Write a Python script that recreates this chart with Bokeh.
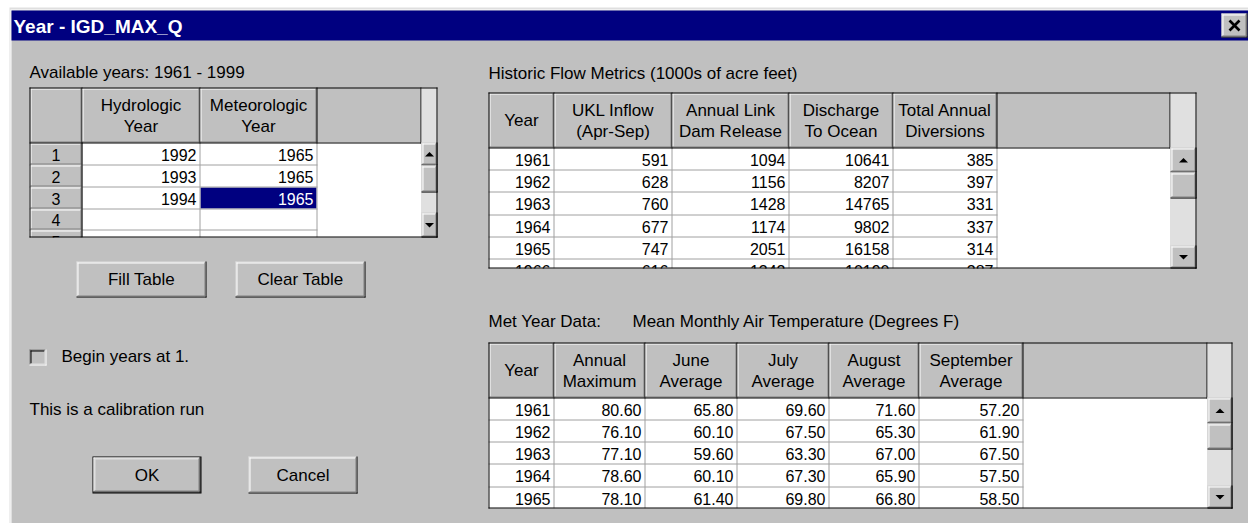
from bokeh.plotting import figure
from bokeh.models import Range1d
from bokeh.embed import file_html
from bokeh.resources import INLINE
from bokeh.core.properties import value

# ---------------- data ----------------
TITLE = "Year - IGD_MAX_Q"
avail_label = "Available years: 1961 - 1999"
left_headers = [[""], ["Hydrologic", "Year"], ["Meteorologic", "Year"]]
row_numbers = ["1", "2", "3", "4", "5"]
hydrologic_years = [1992, 1993, 1994]
meteorologic_years = [1965, 1965, 1965]
selected_cell = (2, 2)  # (row, column) highlighted

button_labels = ["Fill Table", "Clear Table", "OK", "Cancel"]
checkbox_label = "Begin years at 1."
calib_label = "This is a calibration run"

flow_title = "Historic Flow Metrics (1000s of acre feet)"
flow_headers = [["Year"], ["UKL Inflow", "(Apr-Sep)"], ["Annual Link", "Dam Release"],
                ["Discharge", "To Ocean"], ["Total Annual", "Diversions"]]
flow_years = [1961, 1962, 1963, 1964, 1965, 1966]
ukl_inflow = [591, 628, 760, 677, 747, 616]
link_release = [1094, 1156, 1428, 1174, 2051, 1342]
discharge_ocean = [10641, 8207, 14765, 9802, 16158, 10190]
total_diversions = [385, 397, 331, 337, 314, 387]

met_label = "Met Year Data:"
met_title = "Mean Monthly Air Temperature (Degrees F)"
met_headers = [["Year"], ["Annual", "Maximum"], ["June", "Average"], ["July", "Average"],
               ["August", "Average"], ["September", "Average"]]
met_years = [1961, 1962, 1963, 1964, 1965]
annual_maximum = [80.60, 76.10, 77.10, 78.60, 78.10]
june_average = [65.80, 60.10, 59.60, 60.10, 61.40]
july_average = [69.60, 67.50, 63.30, 67.30, 69.80]
august_average = [71.60, 65.30, 67.00, 65.90, 66.80]
september_average = [57.20, 61.90, 67.50, 57.50, 58.50]

# ---------------- style ----------------
GRAY = "#c0c0c0"
DARK = "#808080"
LIGHT = "#dfdfdf"
NAVY = "#000080"
WHITE = "#ffffff"
BLACK = "#000000"
LINE = "#a0a0a0"
STIP = "#e0e0e0"
FONT = "Liberation Sans"
LBL = "17px"
DAT = "16px"

W, H = 1248, 523
p = figure(width=W, height=H, x_range=Range1d(0, W), y_range=Range1d(H, 0),
           output_backend="svg", toolbar_location=None, min_border=0,
           x_axis_location=None, y_axis_location=None)
p.grid.visible = False
p.outline_line_color = None
p.background_fill_color = WHITE
p.border_fill_color = WHITE


def rect(l, t, r, b, fill):
    p.quad(left=[l], right=[r], top=[t], bottom=[b], fill_color=fill, line_color=None)


def hline(x0, x1, y, color, w=1):
    p.segment(x0=[x0], y0=[y + 0.5], x1=[x1], y1=[y + 0.5], line_color=color, line_width=w)


def vline(x, y0, y1, color, w=1):
    p.segment(x0=[x + 0.5], y0=[y0], x1=[x + 0.5], y1=[y1], line_color=color, line_width=w)


def txt(x, y, s, align="left", color=BLACK, size=LBL, bold=False):
    p.text(x=[x], y=[y], text=[s], text_align=align, text_baseline="middle",
           text_color=color, text_font=value(FONT), text_font_size=size,
           text_font_style="bold" if bold else "normal")


def raised(l, t, r, b, default=False):
    if default:
        rect(l, t, r, b, BLACK)
        l, t, r, b = l + 1, t + 1, r - 1, b - 1
    rect(l, t, r, b, GRAY)
    hline(l, r - 1, t, WHITE if default else LIGHT)
    vline(l, t, b - 1, WHITE if default else LIGHT)
    hline(l, r, b - 1, BLACK)
    vline(r - 1, t, b, BLACK)
    hline(l + 1, r - 2, t + 1, LIGHT if default else WHITE)
    vline(l + 1, t + 1, b - 2, LIGHT if default else WHITE)
    hline(l + 1, r - 1, b - 2, DARK)
    vline(r - 2, t + 1, b - 1, DARK)


def arrow(l, t, r, b, up=True):
    cx = (l + r) / 2
    cy = (t + b) / 2
    if up:
        p.patch(x=[cx - 4.5, cx + 4.5, cx], y=[cy + 2.5, cy + 2.5, cy - 2], fill_color=BLACK, line_color=None)
    else:
        p.patch(x=[cx - 4.5, cx + 4.5, cx], y=[cy - 2, cy - 2, cy + 2.5], fill_color=BLACK, line_color=None)


def draw_grid(left, top, cols, sb_l, sb_r, hdr_b, rows, bottom, headers, columns,
              sb, row_hdr=False, selected=None):
    ncol = len(cols) - 1
    rect(left, top, sb_l, hdr_b, GRAY)
    rect(left, hdr_b, sb_l, bottom, WHITE)
    if selected is not None:
        rj, ci = selected
        rect(cols[ci] + 1, rows[rj] + 1, cols[ci + 1], rows[rj + 1], NAVY)
    for i in range(ncol):
        l, r = cols[i], cols[i + 1]
        hline(l + 1, r - 1, top + 1, WHITE)
        vline(l + 1, top + 1, hdr_b - 1, WHITE)
        hline(l + 1, r, hdr_b - 1, DARK)
        vline(r - 1, top + 1, hdr_b, DARK)
        vline(r, top, hdr_b + 1, BLACK)
    vline(sb_l - 1, top, hdr_b + 1, BLACK)
    last = cols[-1]
    for y in rows[1:]:
        if y < bottom:
            hline(left, last + 1, y, LINE)
    for x in cols[1:]:
        vline(x, hdr_b, bottom, LINE)
    if row_hdr:
        for j in range(len(rows) - 1):
            l, r, t, b = cols[0] + 1, cols[1], rows[j] + 1, rows[j + 1]
            rect(l, t, r, b, GRAY)
            hline(l, r - 1, t, WHITE)
            vline(l, t, b - 1, WHITE)
            hline(l, r, b - 1, DARK)
            vline(r - 1, t, b, DARK)
        vline(cols[1], hdr_b, bottom, BLACK)
    hline(left, sb_l, hdr_b, BLACK)
    for i, lines in enumerate(headers):
        cx = (cols[i] + cols[i + 1]) / 2 + 0.5
        cy = (top + hdr_b) / 2 + 0.5
        if len(lines) == 1:
            txt(cx, cy, lines[0], "center")
        else:
            txt(cx, cy - 10.5, lines[0], "center")
            txt(cx, cy + 10.5, lines[1], "center")
    for i, col in enumerate(columns):
        for j, s in enumerate(col):
            cy = (rows[j] + rows[j + 1]) / 2 + 1
            if row_hdr and i == 0:
                txt((cols[0] + cols[1]) / 2 + 0.5, cy, s, "center", size=DAT)
            else:
                color = WHITE if selected == (j, i) else BLACK
                txt(cols[i + 1] - 3, cy, s, "right", color, size=DAT)
    # hide partial rows below grid
    rect(left - 2, bottom, sb_r + 2, bottom + 20, GRAY)
    up_b, thumb_b, down_t = sb
    rect(sb_l, top, sb_r, bottom, STIP)
    raised(sb_l, hdr_b, sb_r, up_b)
    arrow(sb_l, hdr_b, sb_r, up_b, True)
    raised(sb_l, up_b, sb_r, thumb_b)
    raised(sb_l, down_t, sb_r, bottom)
    arrow(sb_l, down_t, sb_r, bottom, False)
    hline(left, sb_r, top, BLACK)
    vline(left, top, bottom, BLACK)
    hline(left, sb_r, bottom - 1, BLACK)
    vline(sb_r - 1, top, bottom, BLACK)


# ---------------- window frame ----------------
rect(9, 7, W, H, LIGHT)
rect(10, 9, W, H, WHITE)
rect(11, 10, W, H, GRAY)
rect(11, 10, W, 40, NAVY)
txt(13, 25.5, TITLE, "left", WHITE, "19px", True)
raised(1221, 13, 1247, 37)
p.segment(x0=[1229, 1229], y0=[20, 30], x1=[1239, 1239], y1=[30, 20], line_color=BLACK, line_width=2.6)

# ---------------- left panel ----------------
txt(29, 72, avail_label)
draw_grid(29, 87, [29, 81, 199, 316], 421, 437, 142, [142, 164, 186, 208, 229, 251], 237,
          left_headers,
          [row_numbers, [str(v) for v in hydrologic_years], [str(v) for v in meteorologic_years]],
          (165, 192, 212), row_hdr=True, selected=selected_cell)

raised(76, 261, 206, 297)
txt(141, 279, button_labels[0], "center")
raised(235, 261, 365, 297)
txt(300, 279, button_labels[1], "center")

# checkbox (sunken)
cl, ct, cr, cb = 29, 349, 46, 365
rect(cl, ct, cr, cb, GRAY)
hline(cl, cr - 1, ct, DARK)
vline(cl, ct, cb - 1, DARK)
hline(cl + 1, cr - 2, ct + 1, BLACK)
vline(cl + 1, ct + 1, cb - 2, BLACK)
hline(cl, cr, cb - 1, WHITE)
vline(cr - 1, ct, cb, WHITE)
hline(cl + 1, cr - 1, cb - 2, LIGHT)
vline(cr - 2, ct + 1, cb - 1, LIGHT)
txt(61, 356, checkbox_label)

txt(29, 408.5, calib_label)

raised(92, 456, 201, 493, default=True)
txt(146.5, 475, button_labels[2], "center")
raised(248, 456, 357, 493)
txt(302.5, 475, button_labels[3], "center")

# ---------------- historic flow table ----------------
txt(488, 73, flow_title)
draw_grid(488, 92, [488, 553, 671, 788, 892, 996], 1170, 1196, 147,
          [147, 169, 191, 214, 236, 258, 280], 268,
          flow_headers,
          [[str(v) for v in flow_years], [str(v) for v in ukl_inflow],
           [str(v) for v in link_release], [str(v) for v in discharge_ocean],
           [str(v) for v in total_diversions]],
          (172, 198, 245))

# ---------------- met year table ----------------
txt(488, 321, met_label)
txt(632, 321, met_title)
draw_grid(488, 342, [488, 553, 644, 736, 828, 918, 1022], 1207, 1232, 397,
          [397, 419, 441, 463, 486, 508], 508,
          met_headers,
          [[str(v) for v in met_years], ["%.2f" % v for v in annual_maximum],
           ["%.2f" % v for v in june_average], ["%.2f" % v for v in july_average],
           ["%.2f" % v for v in august_average], ["%.2f" % v for v in september_average]],
          (423, 449, 485))

open("out.html", "w").write(file_html(p, INLINE))
